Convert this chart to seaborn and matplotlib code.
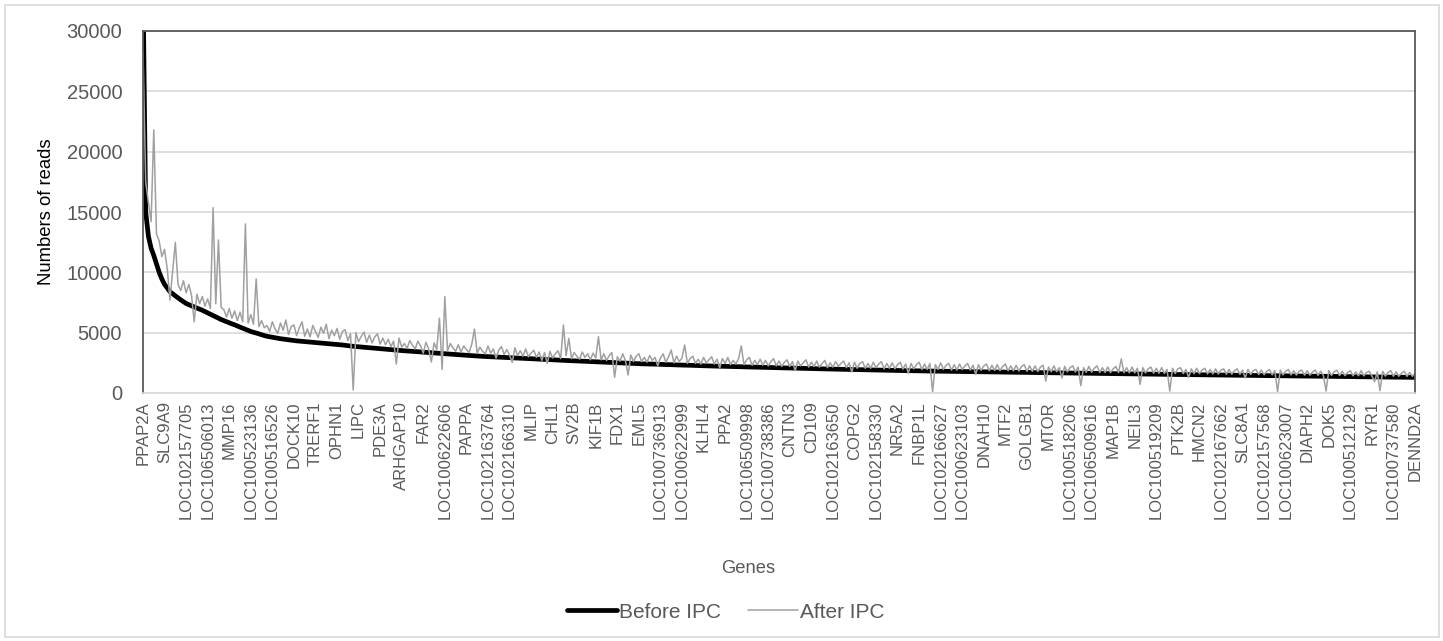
import numpy as np
import pandas as pd
import matplotlib
matplotlib.use("Agg")
import matplotlib.pyplot as plt
import seaborn as sns
from matplotlib.patches import Rectangle

# every 8th gene carries a label on the category axis
gene_labels = [
    "PPAP2A", "SLC9A9", "LOC102157705", "LOC106506013", "MMP16", "LOC100523136",
    "LOC100516526", "DOCK10", "TRERF1", "OPHN1", "LIPC", "PDE3A", "ARHGAP10",
    "FAR2", "LOC100622606", "PAPPA", "LOC102163764", "LOC102166310", "MLIP",
    "CHL1", "SV2B", "KIF1B", "FDX1", "EML5", "LOC100736913", "LOC100622999",
    "KLHL4", "PPA2", "LOC106509998", "LOC100738386", "CNTN3", "CD109",
    "LOC102163650", "COPG2", "LOC102158330", "NR5A2", "FNBP1L", "LOC102166627",
    "LOC100623103", "DNAH10", "MTF2", "GOLGB1", "MTOR", "LOC100518206",
    "LOC106509616", "MAP1B", "NEIL3", "LOC100519209", "PTK2B", "HMCN2",
    "LOC102167662", "SLC8A1", "LOC102157568", "LOC100623007", "DIAPH2", "DOK5",
    "LOC100512129", "RYR1", "LOC100737580", "DENND2A",
]
label_step = 8

before_ipc = [
    34000, 15000, 13000, 12000, 11400, 10700, 10000, 9450, 9000, 8700,
    8400, 8220, 8050, 7880, 7720, 7570, 7420, 7320, 7230, 7130,
    7040, 6950, 6860, 6750, 6640, 6530, 6420, 6300, 6190, 6090,
    6000, 5910, 5820, 5730, 5650, 5550, 5460, 5370, 5280, 5190,
    5100, 5030, 4970, 4900, 4830, 4760, 4700, 4660, 4620, 4580,
    4540, 4500, 4470, 4440, 4410, 4380, 4350, 4320, 4300, 4280,
    4260, 4240, 4220, 4200, 4180, 4160, 4140, 4120, 4100, 4080,
    4060, 4040, 4020, 4000, 3980, 3950, 3920, 3895, 3870, 3850,
    3830, 3810, 3790, 3770, 3750, 3730, 3710, 3690, 3670, 3650,
    3630, 3610, 3590, 3570, 3550, 3530, 3515, 3500, 3485, 3470,
    3450, 3435, 3420, 3400, 3385, 3370, 3355, 3340, 3320, 3305,
    3290, 3270, 3255, 3240, 3225, 3210, 3190, 3175, 3160, 3140,
    3125, 3110, 3090, 3075, 3060, 3050, 3035, 3025, 3015, 3000,
    2990, 2980, 2970, 2960, 2950, 2940, 2925, 2915, 2905, 2890,
    2880, 2870, 2860, 2850, 2840, 2830, 2815, 2805, 2795, 2780,
    2770, 2760, 2750, 2740, 2730, 2715, 2705, 2695, 2685, 2675,
    2665, 2655, 2645, 2635, 2625, 2615, 2610, 2600, 2590, 2580,
    2570, 2560, 2550, 2540, 2530, 2520, 2510, 2500, 2490, 2480,
    2470, 2460, 2450, 2440, 2430, 2420, 2415, 2405, 2400, 2395,
    2390, 2380, 2375, 2365, 2360, 2350, 2345, 2335, 2330, 2320,
    2315, 2305, 2300, 2295, 2290, 2280, 2275, 2265, 2260, 2250,
    2245, 2235, 2230, 2225, 2220, 2215, 2210, 2200, 2195, 2190,
    2185, 2180, 2175, 2165, 2160, 2155, 2150, 2145, 2140, 2130,
    2125, 2120, 2115, 2110, 2105, 2095, 2090, 2085, 2080, 2075,
    2070, 2060, 2055, 2050, 2045, 2040, 2035, 2030, 2025, 2020,
    2015, 2005, 2000, 1995, 1990, 1985, 1980, 1975, 1970, 1965,
    1960, 1955, 1950, 1945, 1940, 1930, 1925, 1920, 1915, 1910,
    1905, 1900, 1895, 1890, 1885, 1882, 1880, 1875, 1870, 1868,
    1865, 1860, 1855, 1852, 1850, 1845, 1840, 1838, 1835, 1830,
    1825, 1822, 1820, 1815, 1810, 1808, 1805, 1800, 1795, 1792,
    1790, 1785, 1780, 1778, 1775, 1772, 1770, 1768, 1765, 1760,
    1755, 1752, 1750, 1748, 1745, 1742, 1740, 1735, 1730, 1728,
    1725, 1722, 1720, 1718, 1715, 1712, 1710, 1705, 1700, 1698,
    1695, 1692, 1690, 1688, 1685, 1682, 1680, 1675, 1670, 1668,
    1665, 1662, 1660, 1658, 1655, 1652, 1650, 1645, 1640, 1638,
    1635, 1632, 1630, 1628, 1625, 1622, 1620, 1615, 1610, 1608,
    1605, 1602, 1600, 1598, 1595, 1592, 1590, 1585, 1580, 1578,
    1575, 1572, 1570, 1568, 1565, 1560, 1555, 1552, 1550, 1548,
    1545, 1542, 1540, 1538, 1535, 1530, 1525, 1522, 1520, 1518,
    1515, 1512, 1510, 1508, 1505, 1500, 1495, 1492, 1490, 1488,
    1485, 1482, 1480, 1478, 1475, 1472, 1470, 1468, 1465, 1462,
    1460, 1455, 1450, 1448, 1445, 1442, 1440, 1438, 1435, 1432,
    1430, 1428, 1425, 1422, 1420, 1418, 1415, 1412, 1410, 1408,
    1405, 1402, 1400, 1398, 1395, 1392, 1390, 1388, 1385, 1382,
    1380, 1378, 1375, 1372, 1370, 1368, 1365, 1360, 1355, 1352,
    1350, 1348, 1345, 1342, 1340, 1338, 1335, 1332, 1330, 1328,
    1325, 1322, 1320, 1318, 1315, 1312, 1310, 1308, 1305, 1302,
    1300, 1298, 1295,
]

after_ipc = [
    28400, 17500, 15800, 14200, 21800, 13200, 12600, 11300, 11900, 10300,
    7700, 10100, 12490, 9000, 8500, 9300, 8300, 9000, 8100, 5900,
    8200, 7400, 8000, 7200, 7800, 7000, 15360, 7400, 12680, 7100,
    6900, 6300, 7000, 6200, 6800, 6000, 6700, 5900, 14010, 5800,
    6500, 5700, 9450, 5500, 6000, 5400, 5600, 5100, 5900, 5300,
    4950, 5800, 5200, 6050, 4850, 5500, 5650, 4750, 5400, 5900,
    4700, 5300, 4650, 5600, 5100, 4600, 5450, 4950, 5700, 4500,
    5200, 4750, 5350, 4450, 5100, 5250, 4350, 4900, 250, 5000,
    4250, 4700, 5050, 4200, 4800, 4150, 4650, 4900, 4050, 4550,
    4000, 4450, 3850, 4300, 2400, 4550, 3800, 4100, 3700, 4350,
    3950, 3650, 4300, 3900, 3300, 4200, 3650, 2570, 4150, 3600,
    6200, 1950, 7980, 3500, 4100, 3750, 3450, 4000, 3400, 3900,
    3600, 3350, 4050, 5300, 3300, 3800, 3450, 3250, 3900, 3300,
    3650, 2900, 3550, 3850, 3200, 3600, 3150, 2540, 3750, 3100,
    3500, 3050, 3650, 3000, 3300, 3550, 2950, 3400, 2700, 3350,
    2460, 3450, 2900, 3250, 3500, 2850, 5640, 3100, 4530, 2850,
    3350, 3050, 2800, 3400, 2950, 3250, 2750, 3300, 2900, 4670,
    2750, 3250, 2700, 3100, 3350, 1300, 3000, 2650, 3250, 2700,
    1490, 3150, 2600, 3050, 3250, 2600, 2950, 2550, 3100, 2700,
    2950, 2250, 2900, 3250, 2550, 3000, 3560, 2500, 3050, 2600,
    2900, 3980, 2450, 2850, 3050, 2450, 2800, 2400, 2950, 2500,
    2750, 3000, 2400, 2800, 2100, 2850, 2450, 2950, 2350, 2700,
    2400, 2850, 3900, 2350, 2750, 2950, 2300, 2700, 2350, 2800,
    2300, 2700, 2250, 2600, 2850, 2250, 2650, 2200, 2550, 2750,
    2200, 2600, 1850, 2650, 2250, 2500, 2750, 2150, 2550, 2200,
    2650, 2150, 2450, 2700, 2100, 2500, 2150, 2600, 2200, 2450,
    2650, 2100, 2500, 1750, 2550, 2050, 2450, 2600, 2050, 2450,
    2050, 2550, 2100, 2400, 2600, 2000, 2450, 2050, 2500, 2000,
    2350, 2550, 1980, 2400, 1650, 2450, 2000, 2350, 2550, 1950,
    2400, 1950, 2450, 100, 2350, 1950, 2500, 1950, 2300, 2450,
    1900, 2350, 1900, 2400, 1950, 2250, 2450, 1900, 2300, 1550,
    2350, 1880, 2250, 2400, 1850, 2300, 1870, 2350, 1850, 2200,
    2400, 1850, 2250, 1840, 2300, 1820, 2200, 2350, 1800, 2250,
    1800, 2250, 1780, 2150, 2300, 990, 2150, 1770, 2250, 1760,
    2100, 1240, 2200, 1750, 2100, 2250, 1740, 2150, 610, 2100,
    1720, 2200, 1720, 2050, 2250, 1700, 2100, 1700, 2150, 1690,
    2000, 2200, 1690, 2820, 1680, 2100, 1680, 2150, 1670, 2050,
    720, 2100, 1660, 2000, 2150, 1640, 2050, 1640, 2100, 1630,
    1950, 160, 2050, 1620, 2000, 2100, 1610, 1950, 1300, 2000,
    1600, 2050, 1600, 1900, 2050, 1580, 1950, 1580, 2000, 1570,
    1900, 2000, 1560, 1950, 1560, 1850, 2000, 1550, 1900, 1250,
    1950, 1540, 1850, 1950, 1530, 1900, 1520, 1800, 1950, 1510,
    1850, 110, 1900, 1500, 1800, 1950, 1500, 1850, 1490, 1800,
    1900, 1480, 1850, 1480, 1750, 1900, 1470, 1800, 1460, 160,
    1850, 1460, 1750, 1900, 1450, 1800, 1440, 1700, 1850, 1430,
    1750, 1430, 1850, 1420, 1700, 1800, 1410, 940, 1750, 190,
    1800, 1400, 1700, 1850, 1390, 1750, 1390, 1650, 1800, 1380,
    1700, 1380, 1650,
]

gene_pos = np.arange(len(before_ipc))
df = pd.DataFrame({"pos": gene_pos, "before": before_ipc, "after": after_ipc})

sns.set_theme(style="white")
plt.rcParams["font.family"] = ["Liberation Sans", "DejaVu Sans"]

fig = plt.figure(figsize=(14.43, 6.41), dpi=100)
ax = fig.add_axes([143 / 1443, 1 - 393 / 641, 1272 / 1443, 362 / 641])

sns.lineplot(x="pos", y="before", data=df, color="black", linewidth=3.4,
             label="Before IPC", ax=ax)
sns.lineplot(x="pos", y="after", data=df, color="#a0a0a0", linewidth=1.1,
             label="After IPC", ax=ax)

ax.set_xlim(0, len(before_ipc) - 1)
ax.set_ylim(0, 30000)
ax.set_yticks(range(0, 30001, 5000))
ax.set_xticks(gene_pos[::label_step])
ax.set_xticklabels(gene_labels, rotation=90)
ax.tick_params(axis="x", length=0, pad=6, labelsize=12, labelcolor="#595959")
ax.tick_params(axis="y", length=0, pad=15, labelsize=14.5, labelcolor="#595959")
ax.grid(axis="y", color="#d9d9d9", linewidth=1.2)
ax.set_axisbelow(True)

for side in ["left", "top", "right"]:
    ax.spines[side].set_color("#595959")
    ax.spines[side].set_linewidth(1.3)
ax.spines["bottom"].set_color("#d9d9d9")
ax.spines["bottom"].set_linewidth(1.2)

ax.set_ylabel("Numbers of reads", fontsize=13.3, color="black")
ax.yaxis.set_label_coords(-0.069, 0.5)
ax.set_xlabel("Genes", fontsize=13.2, color="#595959")
ax.xaxis.set_label_coords((748 - 143) / 1272, -0.462)

ax.legend(loc="center", bbox_to_anchor=((726 - 143) / 1272, -0.605), ncol=2,
          frameon=False, fontsize=15, labelcolor="#595959", handlelength=2.4,
          handletextpad=0.1, columnspacing=1.3)

fig.patches.append(Rectangle((5 / 1443, 4 / 641), 1434 / 1443, 632 / 641,
                             transform=fig.transFigure, fill=False,
                             edgecolor="#d9d9d9", linewidth=1.2))

fig.savefig("out.png", dpi=100)
